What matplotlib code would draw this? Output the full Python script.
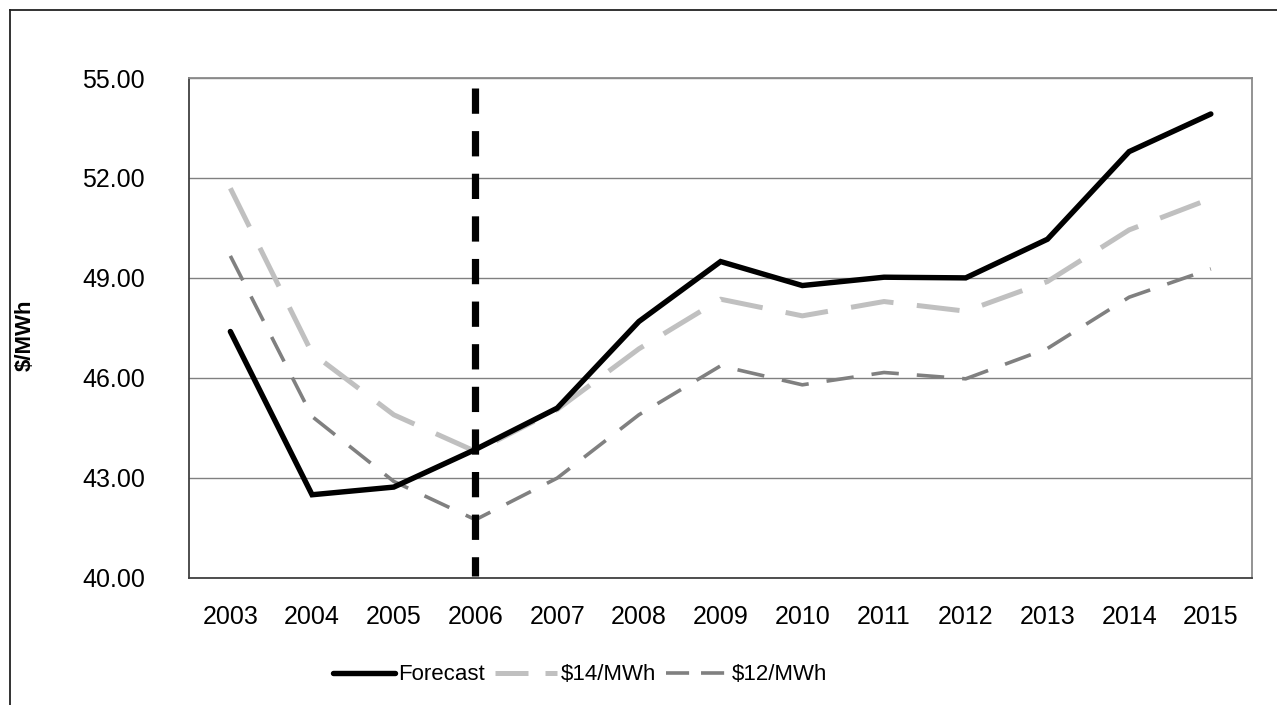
import matplotlib
matplotlib.use("Agg")
import matplotlib.pyplot as plt
from matplotlib import font_manager
from matplotlib.lines import Line2D

years = ["2003", "2004", "2005", "2006", "2007", "2008", "2009",
         "2010", "2011", "2012", "2013", "2014", "2015"]
forecast = [47.39, 42.49, 42.72, 43.85, 45.09, 47.69, 49.49,
            48.77, 49.02, 49.00, 50.16, 52.79, 53.92]
p14 = [51.69, 46.74, 44.89, 43.79, 45.05, 46.87, 48.36,
       47.86, 48.29, 48.00, 48.89, 50.44, 51.38]
p12 = [49.66, 44.84, 42.89, 41.74, 42.99, 44.89, 46.36,
       45.79, 46.16, 45.97, 46.88, 48.42, 49.27]
series_names = ["Forecast", "$14/MWh", "$12/MWh"]
y_ticks = [40.0, 43.0, 46.0, 49.0, 52.0, 55.0]
marker_year = "2006"
y_label = "$/MWh"

names = {f.name for f in font_manager.fontManager.ttflist}
base = "Liberation Sans" if "Liberation Sans" in names else "DejaVu Sans"
plt.rcParams["font.family"] = [base, "DejaVu Sans"]

W, H = 1277, 705
fig = plt.figure(figsize=(W / 100, H / 100), dpi=100)

L, R, T, B = 189.5, 1251.7, 78.0, 577.7
ax = fig.add_axes([L / W, 1 - B / H, (R - L) / W, (B - T) / H])

x = list(range(len(years)))
ax.set_xlim(-0.5, len(years) - 0.5)
ax.set_ylim(y_ticks[0], y_ticks[-1])

ax.set_yticks(y_ticks)
ax.set_yticklabels([f"{v:.2f}" for v in y_ticks])
ax.set_xticks(x)
ax.set_xticklabels(years)
ax.tick_params(axis="both", length=0, labelsize=18, colors="black")
ax.tick_params(axis="y", pad=32)
ax.tick_params(axis="x", pad=20)

ax.grid(axis="y", color="#808080", linewidth=1.0)
ax.set_axisbelow(True)
for s in ["top", "right"]:
    ax.spines[s].set_color("#8a8a8a")
    ax.spines[s].set_linewidth(1.3)
for s in ["left", "bottom"]:
    ax.spines[s].set_color("#404040")
    ax.spines[s].set_linewidth(1.3)

# vertical dashed marker
mi = years.index(marker_year)
ax.plot([mi, mi], [54.7, 40.05], color="black", linewidth=5.2,
        dashes=(3.5, 2.4), solid_capstyle="butt", dash_capstyle="butt", zorder=4)

l1, = ax.plot(x, forecast, color="black", linewidth=3.9,
              solid_capstyle="round", solid_joinstyle="miter", zorder=5)
l2, = ax.plot(x, p14, color="#c0c0c0", linewidth=3.6,
              dashes=(8.6, 4.7), dash_capstyle="butt", zorder=3)
l3, = ax.plot(x, p12, color="#808080", linewidth=2.6,
              dashes=(7.6, 5.0), dash_capstyle="butt", zorder=3)

h1 = Line2D([], [], color="black", linewidth=3.9, solid_capstyle="round")
h2 = Line2D([], [], color="#c0c0c0", linewidth=3.6, dashes=(6.6, 3.4),
            dash_capstyle="butt")
h3 = Line2D([], [], color="#808080", linewidth=2.6, dashes=(6.4, 3.3),
            dash_capstyle="butt")

leg = fig.legend(handles=[h1, h2, h3], labels=series_names, loc="center",
                 bbox_to_anchor=(580 / W, 1 - 675 / H), ncol=3,
                 frameon=False, prop={"size": 16},
                 handlelength=2.8, handletextpad=0.15, columnspacing=0.45,
                 borderpad=0, borderaxespad=0)

fig.text(25 / W, 1 - 335 / H, y_label, rotation=90, ha="center", va="center",
         fontsize=16, fontweight="bold")

# outer chart frame (top and left visible)
fig.add_artist(Line2D([10 / W, 10 / W], [0, 1 - 10 / H], transform=fig.transFigure,
                      color="#222222", linewidth=1.3))
fig.add_artist(Line2D([10 / W, 1], [1 - 10 / H, 1 - 10 / H], transform=fig.transFigure,
                      color="#222222", linewidth=1.3))

fig.savefig("out.png", dpi=100)
